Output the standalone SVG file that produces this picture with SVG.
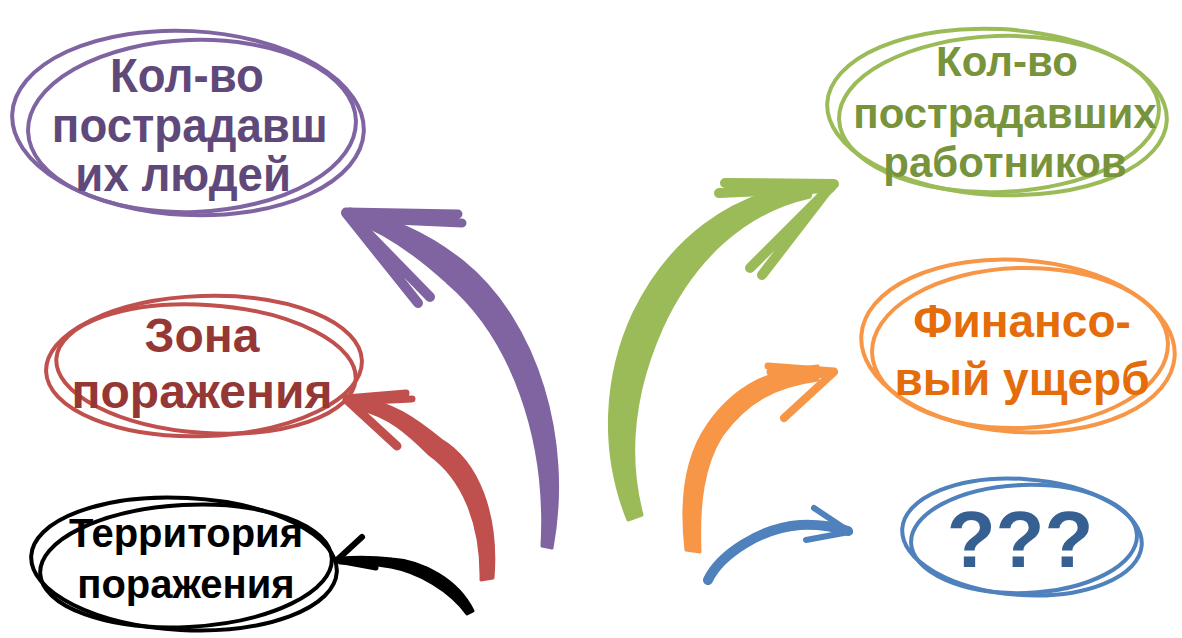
<svg xmlns="http://www.w3.org/2000/svg" width="1182" height="638" viewBox="0 0 1182 638">
<style>
  .t { font-family: "Liberation Sans", Arial, sans-serif; font-weight: bold; text-anchor: middle; }
  .loop { fill: none; stroke-width: 4; }
  .shaft { stroke-width: 3; stroke-linejoin: round; }
  .line { fill: none; stroke-linecap: round; stroke-linejoin: round; }
</style>
<rect width="1182" height="638" fill="#ffffff"/>

<g id="connectors">
  <!-- purple -->
  <g stroke="#8064A2" fill="#8064A2">
    <path class="shaft" d="M552,548 C572,440 537,322 463,262 C428,234 392,218 350,209 L354,221 C385,232 414,252 447,282 C513,338 548,440 542,546 Z"/>
    <path class="line" d="M346,212 L458,214 M350,218 L462,223" stroke-width="9"/>
    <path class="line" d="M346,213 L418,303 M352,217 L430,297" stroke-width="10"/>
  </g>
  <!-- red -->
  <g stroke="#C0504D" fill="#C0504D">
    <path class="shaft" d="M493,578 C498,515 478,462 441,440 C414,418 392,403 358,398 L362,410 C388,416 407,432 429,454 C463,478 482,523 481,580 Z"/>
    <path class="line" d="M346,398 L406,393 M350,402 L412,399" stroke-width="7"/>
    <path class="line" d="M347,400 L397,446" stroke-width="9"/>
  </g>
  <!-- black -->
  <g stroke="#000000" fill="#000000">
    <path class="shaft" d="M473,611 C458,580 422,561 392,559 C374,557 357,557 340,558 L340,563 C357,563 374,564 391,567 C418,572 450,590 467,614 Z"/>
    <path class="line" d="M337,560 L362,537" stroke-width="6"/>
    <path class="line" d="M338,561 L376,568" stroke-width="5"/>
  </g>
  <!-- green -->
  <g stroke="#9BBB59" fill="#9BBB59">
    <path class="shaft" d="M628,520 C600,450 605,375 634,313 C668,243 728,192 814,183 L810,197 C742,212 692,262 662,327 C636,385 625,450 642,515 Z"/>
    <path class="line" d="M834,184 L725,183 M830,188 L719,193" stroke-width="10"/>
    <path class="line" d="M832,186 L750,268 M826,192 L762,275" stroke-width="10"/>
  </g>
  <!-- orange -->
  <g stroke="#F79646" fill="#F79646">
    <path class="shaft" d="M686,550 C680,498 687,455 708,425 C734,388 766,370 818,366 L818,380 C774,386 746,402 722,435 C703,465 698,503 700,552 Z"/>
    <path class="line" d="M834,371 L768,366 M830,375 L770,372" stroke-width="7"/>
    <path class="line" d="M834,372 L784,418" stroke-width="8"/>
  </g>
  <!-- blue -->
  <g stroke="#4F81BD">
    <path class="line" d="M708,580 C720,555 760,528 800,525 C820,524 835,527 848,531" stroke-width="10"/>
    <path class="line" d="M850,532 L814,508" stroke-width="6"/>
    <path class="line" d="M849,532 L806,540" stroke-width="6"/>
  </g>
</g>

<g id="node-people">
  <ellipse class="loop" stroke="#8064A2" cx="188" cy="123" rx="176" ry="92" transform="rotate(3 188 123)"/>
  <ellipse class="loop" stroke="#8064A2" cx="192" cy="126" rx="164" ry="86" transform="rotate(-2 192 126)"/>
  <g transform="translate(187 0) scale(0.95 1) translate(-187 0)">
    <text class="t" fill="#5F497A" font-size="48" x="187" y="92">Кол-во</text>
    <text class="t" fill="#5F497A" font-size="48" x="190" y="142">пострадавш</text>
    <text class="t" fill="#5F497A" font-size="48" x="183" y="191">их людей</text>
  </g>
</g>

<g id="node-zone">
  <ellipse class="loop" stroke="#C0504D" cx="204" cy="366" rx="158" ry="70" transform="rotate(-2 204 366)"/>
  <ellipse class="loop" stroke="#C0504D" cx="206" cy="369" rx="150" ry="64" transform="rotate(4 206 369)"/>
  <text class="t" fill="#953735" font-size="48" x="202" y="352">Зона</text>
  <text class="t" fill="#953735" font-size="48" x="202" y="408">поражения</text>
</g>

<g id="node-territory">
  <ellipse class="loop" stroke="#000000" cx="184" cy="564" rx="153" ry="66" transform="rotate(3 184 564)"/>
  <ellipse class="loop" stroke="#000000" cx="186" cy="566" rx="146" ry="61" transform="rotate(-3 186 566)"/>
  <text class="t" fill="#000000" font-size="40" x="186" y="547">Территория</text>
  <text class="t" fill="#000000" font-size="40" x="186" y="598">поражения</text>
</g>

<g id="node-workers">
  <ellipse class="loop" stroke="#9BBB59" cx="997" cy="112" rx="170" ry="83" transform="rotate(3 997 112)"/>
  <ellipse class="loop" stroke="#9BBB59" cx="999" cy="114" rx="160" ry="78" transform="rotate(-2 999 114)"/>
  <text class="t" fill="#77933C" font-size="42" x="1007" y="76">Кол-во</text>
  <text class="t" fill="#77933C" font-size="42" x="1005" y="128">пострадавших</text>
  <text class="t" fill="#77933C" font-size="42" x="1005" y="177">работников</text>
</g>

<g id="node-finance">
  <ellipse class="loop" stroke="#F79646" cx="1018" cy="346" rx="157" ry="86" transform="rotate(4 1018 346)"/>
  <ellipse class="loop" stroke="#F79646" cx="1020" cy="348" rx="148" ry="80" transform="rotate(-2 1020 348)"/>
  <text class="t" fill="#E46C0A" font-size="46" x="1022" y="337">Финансо-</text>
  <text class="t" fill="#E46C0A" font-size="46" x="1022" y="395">вый ущерб</text>
</g>

<g id="node-unknown">
  <ellipse class="loop" stroke="#4F81BD" cx="1022" cy="537" rx="120" ry="58" transform="rotate(4 1022 537)"/>
  <ellipse class="loop" stroke="#4F81BD" cx="1024" cy="539" rx="113" ry="54" transform="rotate(-2 1024 539)"/>
  <text class="t" fill="#376092" font-size="80" x="1020" y="567">???</text>
</g>
</svg>
